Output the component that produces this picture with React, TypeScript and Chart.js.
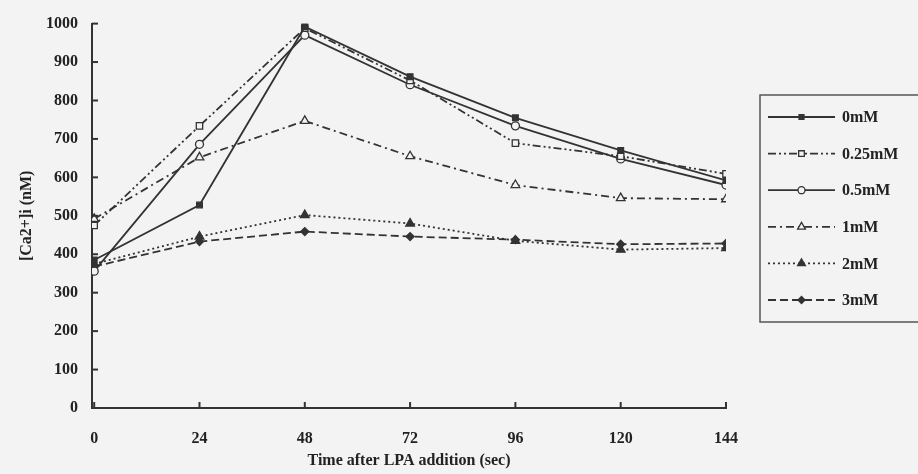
import React, { useEffect, useRef } from "react";
import { Chart, registerables } from "chart.js";
import { drawPoint } from "chart.js/helpers";

Chart.register(...registerables);

const timePoints = [0, 24, 48, 72, 96, 120, 144];
const xTickValues = [0, 24, 48, 72, 96, 120, 144];
const yTickValues = [0, 100, 200, 300, 400, 500, 600, 700, 800, 900, 1000];

const seriesLabels = ["0mM", "0.25mM", "0.5mM", "1mM", "2mM", "3mM"];
const s0mM = [385, 528, 992, 862, 755, 670, 592];
const s025mM = [475, 734, 988, 852, 689, 655, 609];
const s05mM = [356, 686, 970, 841, 734, 648, 580];
const s1mM = [492, 652, 747, 655, 580, 546, 543];
const s2mM = [375, 446, 502, 480, 435, 412, 416];
const s3mM = [368, 433, 459, 446, 438, 426, 428];

const INK = "#333333";
const BG = "#f3f3f3";
const FONT = "'Liberation Serif', 'Times New Roman', serif";

export default function App() {
  const ref = useRef<HTMLCanvasElement | null>(null);

  useEffect(() => {
    document.body.style.margin = "0";
    const canvas = ref.current;
    if (!canvas) return;

    const values = [s0mM, s025mM, s05mM, s1mM, s2mM, s3mM];
    const styles = [
      { pointStyle: "rect", filled: true, dash: [], radius: 4 },
      { pointStyle: "rect", filled: false, dash: [8, 3, 2, 3, 2, 3], radius: 4.5 },
      { pointStyle: "circle", filled: false, dash: [], radius: 4 },
      { pointStyle: "triangle", filled: false, dash: [8, 4, 2, 4], radius: 5 },
      { pointStyle: "triangle", filled: true, dash: [2, 3], radius: 5 },
      { pointStyle: "rectRot", filled: true, dash: [8, 4], radius: 4 },
    ];

    const datasets = seriesLabels.map((label, i) => ({
      label,
      data: timePoints.map((t, j) => ({ x: t, y: values[i][j] })),
      borderColor: INK,
      backgroundColor: styles[i].filled ? INK : BG,
      pointBackgroundColor: styles[i].filled ? INK : BG,
      pointBorderColor: INK,
      borderWidth: 1.8,
      pointBorderWidth: 1.3,
      pointStyle: styles[i].pointStyle as any,
      pointRadius: styles[i].radius,
      borderDash: styles[i].dash,
      tension: 0,
    }));

    const bgPlugin = {
      id: "bg",
      beforeDraw(chart: any) {
        const ctx = chart.ctx;
        ctx.save();
        ctx.fillStyle = BG;
        ctx.fillRect(0, 0, chart.width, chart.height);
        ctx.restore();
      },
    };

    const ticksAndLegend = {
      id: "ticksAndLegend",
      afterDraw(chart: any) {
        const ctx = chart.ctx;
        const xs = chart.scales.x;
        const ys = chart.scales.y;
        const area = chart.chartArea;
        ctx.save();
        ctx.strokeStyle = INK;
        ctx.lineWidth = 2;
        ctx.setLineDash([]);
        yTickValues.forEach((v) => {
          const py = ys.getPixelForValue(v);
          ctx.beginPath();
          ctx.moveTo(area.left, py);
          ctx.lineTo(area.left + 6, py);
          ctx.stroke();
        });
        xTickValues.forEach((v) => {
          const px = xs.getPixelForValue(v);
          ctx.beginPath();
          ctx.moveTo(px, area.bottom);
          ctx.lineTo(px, area.bottom - 6);
          ctx.stroke();
        });

        // legend box
        const boxLeft = area.right + 34;
        const boxTop = 95;
        const boxBottom = 322;
        ctx.lineWidth = 1.5;
        ctx.strokeStyle = "#555555";
        ctx.strokeRect(boxLeft, boxTop, chart.width + 20 - boxLeft, boxBottom - boxTop);

        const itemY0 = 117;
        const itemStep = 36.6;
        chart.data.datasets.forEach((ds: any, i: number) => {
          const y = itemY0 + i * itemStep;
          const x1 = boxLeft + 8;
          const x2 = boxLeft + 75;
          const xm = (x1 + x2) / 2;
          ctx.save();
          ctx.strokeStyle = INK;
          ctx.lineWidth = 1.8;
          ctx.setLineDash(ds.borderDash || []);
          ctx.beginPath();
          ctx.moveTo(x1, y);
          ctx.lineTo(x2, y);
          ctx.stroke();
          ctx.setLineDash([]);
          ctx.fillStyle = ds.pointBackgroundColor;
          ctx.strokeStyle = INK;
          ctx.lineWidth = 1.3;
          drawPoint(ctx, {
            pointStyle: ds.pointStyle,
            rotation: 0,
            radius: ds.pointRadius - 0.5,
            borderWidth: 1.3,
          } as any, xm, y);
          ctx.restore();
          ctx.fillStyle = "#222222";
          ctx.font = `bold 16px ${FONT}`;
          ctx.textAlign = "left";
          ctx.textBaseline = "middle";
          ctx.fillText(ds.label, boxLeft + 82, y + 1);
        });
        ctx.restore();
      },
    };

    const chart = new Chart(canvas, {
      type: "line",
      data: { datasets: datasets as any },
      options: {
        animation: false,
        responsive: false,
        maintainAspectRatio: false,
        layout: { padding: { top: 20, right: 192, left: 0, bottom: 0 } },
        plugins: {
          legend: { display: false },
          tooltip: { enabled: false },
        },
        scales: {
          x: {
            type: "linear",
            min: -0.5,
            max: 144,
            afterBuildTicks: (scale: any) => {
              scale.ticks = xTickValues.map((v) => ({ value: v }));
            },
            afterFit: (scale: any) => {
              scale.height = 66;
            },
            grid: { display: false, drawTicks: false },
            border: { display: true, color: INK, width: 2 },
            ticks: {
              color: "#222222",
              padding: 21,
              font: { family: FONT, size: 16, weight: "bold" },
              maxRotation: 0,
              autoSkip: false,
              callback: (v: any) => String(v),
            },
            title: {
              display: true,
              text: "Time after LPA addition (sec)",
              color: "#222222",
              font: { family: FONT, size: 16, weight: "bold" },
              padding: { top: 0, bottom: 4 },
            },
          },
          y: {
            type: "linear",
            min: 0,
            max: 1000,
            afterBuildTicks: (scale: any) => {
              scale.ticks = yTickValues.map((v) => ({ value: v }));
            },
            afterFit: (scale: any) => {
              scale.width = 92;
            },
            grid: { display: false, drawTicks: false },
            border: { display: true, color: INK, width: 2 },
            ticks: {
              color: "#222222",
              padding: 14,
              font: { family: FONT, size: 16, weight: "bold" },
              callback: (v: any) => String(v),
            },
            title: {
              display: true,
              text: "[Ca2+]i (nM)",
              color: "#222222",
              font: { family: FONT, size: 16, weight: "bold" },
              padding: { top: 17, bottom: 0 },
            },
          },
        },
      },
      plugins: [bgPlugin, ticksAndLegend],
    });

    return () => chart.destroy();
  }, []);

  return (
    <div style={{ position: "fixed", left: 0, top: 0, width: 918, height: 474 }}>
      <canvas ref={ref} width={918} height={474} style={{ display: "block" }} />
    </div>
  );
}
